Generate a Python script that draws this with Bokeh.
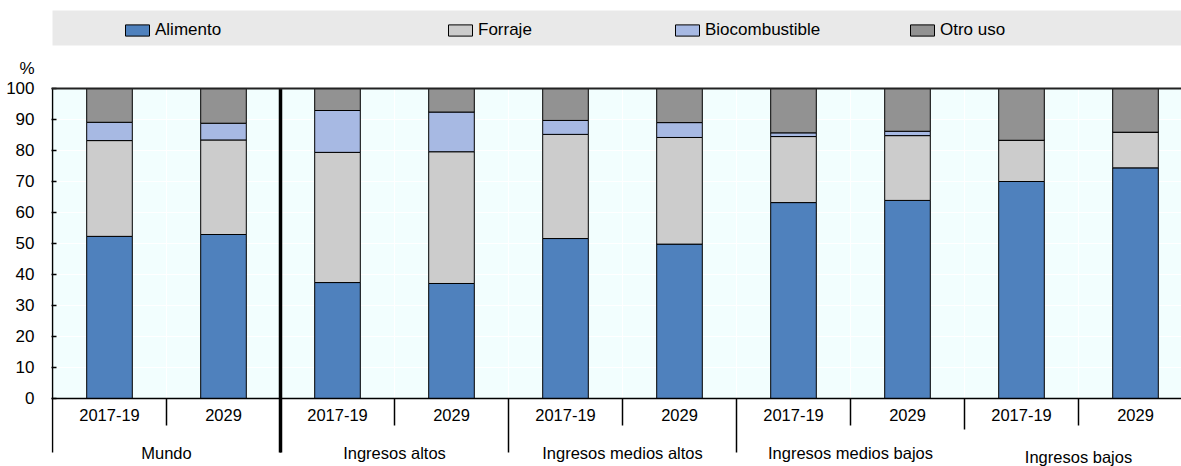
from bokeh.plotting import figure
from bokeh.models import (Range1d, FixedTicker, Span, Legend, LegendItem,
                          BoxAnnotation, ColumnDataSource)
from bokeh.core.properties import value
from bokeh.embed import file_html
from bokeh.resources import INLINE

# --- data ---------------------------------------------------------------
regions = ["Mundo", "Ingresos altos", "Ingresos medios altos",
           "Ingresos medios bajos", "Ingresos bajos"]
periods = ["2017-19", "2029"]
uses = ["Alimento", "Forraje", "Biocombustible", "Otro uso"]

# shares (%) per region and period, in the order of regions x periods
alimento = [52.3, 52.9, 37.4, 37.1, 51.6, 49.8, 63.2, 63.9, 70.0, 74.4]
forraje = [30.9, 30.5, 42.0, 42.5, 33.6, 34.4, 21.3, 20.9, 13.3, 11.5]
biocombustible = [5.9, 5.4, 13.5, 12.8, 4.5, 4.8, 1.2, 1.4, 0.0, 0.0]
otro_uso = [round(100 - a - f - b, 1) for a, f, b in zip(alimento, forraje, biocombustible)]

y_ticks = list(range(0, 101, 10))
y_unit_label = "%"

# --- style --------------------------------------------------------------
colors = ["#4F81BD", "#CCCCCC", "#A7B9E3", "#929292"]
FONT = "Liberation Sans"
PLOT_BG = "#F2FEFE"

W, H = 1181, 466
LEFT = 51            # frame starts here (px)
ZERO_X = 52          # pixel where the first slot starts
SLOT = 114           # px per bar slot
TOP_Y, BOT_Y = 88, 398   # pixel rows of 100 % and 0 %
PX = (BOT_Y - TOP_Y) / 100.0

n = len(regions) * len(periods)
x_c = [i + 0.5 for i in range(n)]
x_start = -(ZERO_X - LEFT) / SLOT
x_end = (W - ZERO_X) / SLOT
y_start = -(H - BOT_Y) / PX
y_end = 100 + TOP_Y / PX
unit_y = 100 + (TOP_Y - 68) / PX     # height of the "%" caption


def below(px):
    """data value for a pixel row under the zero line"""
    return -(px - BOT_Y) / PX


src = ColumnDataSource(dict(
    x=x_c,
    period=[p for _ in regions for p in periods],
    Alimento=alimento, Forraje=forraje,
    Biocombustible=biocombustible, **{"Otro uso": otro_uso},
))

p = figure(width=W, height=H, output_backend="svg", toolbar_location=None,
           x_range=Range1d(x_start, x_end), y_range=Range1d(y_start, y_end),
           x_axis_location=None, min_border_left=LEFT, min_border_right=0,
           min_border_top=0, min_border_bottom=0)
p.outline_line_color = None
p.background_fill_color = "white"
p.border_fill_color = "white"

# plotting area background
p.add_layout(BoxAnnotation(bottom=0, top=100, fill_color=PLOT_BG, fill_alpha=1,
                           line_color=None, level="image"))

# grid
p.ygrid.ticker = FixedTicker(ticks=y_ticks)
p.ygrid.grid_line_color = "white"
p.ygrid.grid_line_width = 1.2
p.xgrid.ticker = FixedTicker(ticks=[i for i in range(1, n)])
p.xgrid.grid_line_color = "white"
p.xgrid.grid_line_width = 1

# y axis: labels on the major ticks (plus the unit caption on top),
# inward tick marks drawn as minor ticks
ya = p.yaxis[0]
ya.ticker = FixedTicker(ticks=y_ticks + [unit_y], minor_ticks=y_ticks)
ya.major_label_overrides = {unit_y: y_unit_label}
ya.axis_line_color = None
ya.major_tick_line_color = None
ya.major_tick_in = 0
ya.major_tick_out = 0
ya.minor_tick_in = 5
ya.minor_tick_out = 0
ya.minor_tick_line_color = "black"
ya.minor_tick_line_width = 1.5
ya.major_label_standoff = 17
ya.major_label_text_font = FONT
ya.major_label_text_font_size = "17px"
ya.major_label_text_color = "black"

# stacked bars
rs = p.vbar_stack(uses, x="x", width=0.4, source=src, color=colors,
                  line_color="black", line_width=1)

# frame lines at 0 and 100
p.add_layout(Span(location=100, dimension="width", line_color="#222222", line_width=2))
p.add_layout(Span(location=0, dimension="width", line_color="black", line_width=1.5))

# value axis line, continued down as the first group separator
p.segment(x0=[0], y0=[100], x1=[0], y1=[below(452)], line_color="black", line_width=1.5)

# category axis under the bars
sub_x = [2 * g + 1 for g in range(len(regions))]
grp_x = [2 * g for g in range(1, len(regions))]
p.segment(x0=sub_x, y0=[0] * len(sub_x), x1=sub_x, y1=[below(425)] * len(sub_x),
          line_color="black", line_width=1.5)
grp_end = [452, 452, 452, 429]
p.segment(x0=grp_x, y0=[0] * len(grp_x), x1=grp_x,
          y1=[below(e) for e in grp_end], line_color="black", line_width=1.5)
# heavy divider between the world and the income groups
p.segment(x0=[2], y0=[100], x1=[2], y1=[below(452)], line_color="black", line_width=3.5)

p.text(x="x", y=below(414), text="period", source=src,
       text_align="center", text_baseline="middle", text_font=value(FONT),
       text_font_size="16.5px", text_color="black")
grp_label_y = [452, 452, 452, 452, 456]
p.text(x=[2 * g + 1 for g in range(len(regions))],
       y=[below(v) for v in grp_label_y], text=regions,
       text_align="center", text_baseline="middle", text_font=value(FONT),
       text_font_size="16.5px", text_color="black")

# legend band and entries
p.add_layout(BoxAnnotation(left=0, top=100 + (TOP_Y - 10) / PX,
                           bottom=100 + (TOP_Y - 45) / PX, fill_color="#E9E9E9",
                           fill_alpha=1, line_color=None, level="underlay"))
legend_x = [122, 445, 672, 907]
for r, name, lx in zip(rs, uses, legend_x):
    lg = Legend(items=[LegendItem(label=name, renderers=[r])],
                location=(lx - LEFT, H - 40), orientation="horizontal",
                padding=0, margin=0, spacing=0, glyph_width=30, glyph_height=14,
                label_standoff=3, label_height=20, label_text_font=FONT,
                label_text_font_size="17px", label_text_color="black",
                background_fill_alpha=0, border_line_alpha=0)
    p.add_layout(lg)

open("out.html", "w").write(file_html(p, INLINE))
